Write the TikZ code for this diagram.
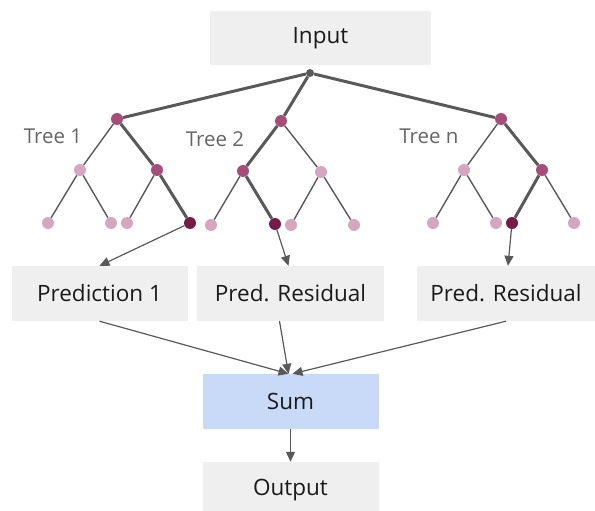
\documentclass[tikz,border=0pt]{standalone}
\usepackage{fontspec}
\setmainfont{Open Sans}
\usetikzlibrary{arrows.meta}
\definecolor{boxgray}{HTML}{EFEFEF}
\definecolor{sumblue}{HTML}{C9DAF8}
\definecolor{linegray}{HTML}{595959}
\definecolor{midberry}{HTML}{A64D79}
\definecolor{lightberry}{HTML}{D5A6BD}
\definecolor{darkberry}{HTML}{741B47}
\definecolor{labelgray}{HTML}{666666}
\definecolor{textdark}{HTML}{1A1A1A}
\tikzset{
  box/.style={draw=none, fill=boxgray, inner sep=0pt, text=textdark, font=\fontsize{22.5}{26}\selectfont},
  dot/.style={circle, inner sep=0pt, minimum size=12pt, draw=none},
  middot/.style={dot, fill=midberry},
  lightdot/.style={dot, fill=lightberry},
  darkdot/.style={dot, fill=darkberry},
  thin edge/.style={draw=linegray, line width=1.4pt},
  path edge/.style={draw=linegray, line width=3pt},
  flow/.style={draw=linegray, line width=1.2pt, -{Triangle[length=10pt,width=9pt]}},
  treelabel/.style={text=labelgray, font=\fontsize{20.5}{24}\selectfont},
}
\begin{document}
\begin{tikzpicture}[x=1pt,y=-1pt]
\useasboundingbox (0,0) rectangle (595,511);

% boxes
\node[box, minimum width=221pt, minimum height=54pt] (input) at (320.5,38.5) {Input};
\node[box, minimum width=176pt, minimum height=55pt] (p1) at (99.5,293.5) {Prediction 1};
\node[box, minimum width=187pt, minimum height=55pt] (p2) at (290.5,293.5) {Pred. Residual};
\node[box, minimum width=178pt, minimum height=55pt] (pn) at (506,293.5) {Pred. Residual};
\node[box, fill=sumblue, minimum width=176pt, minimum height=55pt] (sum) at (290.5,401.5) {Sum};
\node[box, minimum width=176pt, minimum height=56pt] (out) at (290.5,490) {Output};

% common root
\node[dot, fill=linegray, minimum size=8pt] (r) at (310,73) {};

% tree 1
\node[middot] (a) at (117,119) {};
\node[lightdot] (a1) at (80,170) {};
\node[middot] (a2) at (157,170) {};
\node[lightdot] (a11) at (48,223) {};
\node[lightdot] (a12) at (111,223) {};
\node[lightdot] (a21) at (127,223) {};
\node[darkdot] (a22) at (190,223) {};

% tree 2
\node[middot] (b) at (281,121) {};
\node[middot] (b1) at (243,171) {};
\node[lightdot] (b2) at (321,172) {};
\node[lightdot] (b11) at (211,225) {};
\node[darkdot] (b12) at (275,224) {};
\node[lightdot] (b21) at (291,225) {};
\node[lightdot] (b22) at (354,225) {};

% tree n
\node[middot] (c) at (501,119) {};
\node[lightdot] (c1) at (464,170) {};
\node[middot] (c2) at (542,170) {};
\node[lightdot] (c11) at (433,223) {};
\node[lightdot] (c12) at (496,223) {};
\node[darkdot] (c21) at (512,223) {};
\node[lightdot] (c22) at (574,223) {};

% tree labels
\node[treelabel] (t1) at (53,136) {Tree 1};
\node[treelabel] (t2) at (215,139) {Tree 2};
\node[treelabel] (tn) at (429,136) {Tree n};

% edges: thin branches
\path[thin edge] (a) -- (a1) (a1) -- (a11) (a1) -- (a12) (a2) -- (a21);
\path[thin edge] (b) -- (b2) (b1) -- (b11) (b2) -- (b21) (b2) -- (b22);
\path[thin edge] (c) -- (c1) (c1) -- (c11) (c1) -- (c12) (c2) -- (c22);
% edges: decision paths
\path[path edge] (r) -- (a) (a) -- (a2) (a2) -- (a22);
\path[path edge] (r) -- (b) (b) -- (b1) (b1) -- (b12);
\path[path edge] (r) -- (c) (c) -- (c2) (c2) -- (c21);

% flow arrows
\draw[flow] (a22) -- (p1.north);
\draw[flow] (b12) -- ([xshift=-2pt]p2.north);
\draw[flow] (c21) -- ([xshift=2pt]pn.north);
\draw[flow] (p1.south) -- ([xshift=-2pt]sum.north);
\draw[flow] ([xshift=-11pt]p2.south) -- ([xshift=-2pt]sum.north);
\draw[flow] (pn.south) -- ([xshift=2pt]sum.north);
\draw[flow] (sum.south) -- (out.north);
\end{tikzpicture}
\end{document}
